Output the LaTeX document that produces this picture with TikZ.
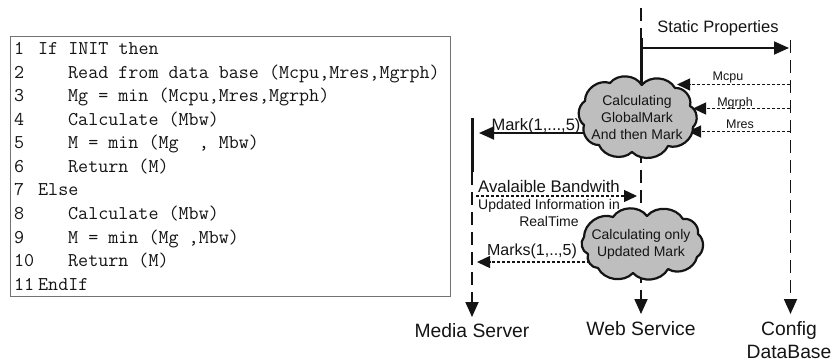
\documentclass[tikz,border=0pt]{standalone}
\usepackage{fontspec}
\setmainfont{Liberation Sans}
\setmonofont{Latin Modern Mono}
\usetikzlibrary{arrows.meta}
\definecolor{cloudgray}{RGB}{190,190,190}
\definecolor{ink}{RGB}{20,20,20}
\tikzset{
  x=1pt,y=-1pt,
  codetext/.style={anchor=base west,inner sep=0,font=\fontsize{19.5}{21}\selectfont\ttfamily,text=ink},
  lifeline/.style={draw=ink,line width=1.8pt,dash pattern=on 13pt off 7pt},
  boldline/.style={draw=ink,line width=3pt},
  tipsolid/.style={-{Triangle[length=15pt,width=13pt]}},
  tipsmall/.style={-{Triangle[length=13pt,width=12pt]}},
  dotline/.style={draw=ink,line width=1.4pt,dash pattern=on 3pt off 2pt,tipsmall},
  solidline/.style={draw=ink,line width=1.8pt,tipsolid},
  lbl/.style={inner sep=0,text=ink,align=center},
  big/.style={lbl,font=\fontsize{19.3}{23}\selectfont},
  mid/.style={lbl,font=\fontsize{16.5}{18}\selectfont},
  small/.style={lbl,font=\fontsize{12.5}{14}\selectfont},
  thought/.style={draw=ink,line width=2.2pt,fill=cloudgray,line join=round},
  puff/.style={bend left=55},
  cloudtext/.style={lbl,font=\fontsize{14}{17}\selectfont},
}
\begin{document}
\begin{tikzpicture}
\useasboundingbox (0,0) rectangle (833,362);
% code box
\node[draw=black!55,line width=1pt,minimum width=440pt,minimum height=260pt,inner sep=0] (box) at (230.5,166) {};
\foreach \n/\yy/\t in {n1/54/1,n2/78/2,n3/101/3,n4/125/4,n5/148/5,n6/172/6,n7/195/7,n8/219/8,n9/243/9,n10/266/10,n11/290/11}
  \node[codetext] (\n) at (14,\yy) {\t};
\node[codetext] (c1) at (38,54) {If INIT then};
\node[codetext] (c2) at (68,78) {Read from data base (Mcpu,Mres,Mgrph)};
\node[codetext] (c3) at (68,101) {Mg = min (Mcpu,Mres,Mgrph)};
\node[codetext] (c4) at (68,125) {Calculate (Mbw)};
\node[codetext] (c5) at (68,148) {M = min (Mg\ \ , Mbw)};
\node[codetext] (c6) at (68,172) {Return (M)};
\node[codetext] (c7) at (38,195) {Else};
\node[codetext] (c8) at (68,219) {Calculate (Mbw)};
\node[codetext] (c9) at (68,243) {M = min (Mg ,Mbw)};
\node[codetext] (c10) at (68,266) {Return (M)};
\node[codetext] (c11) at (38,290) {EndIf};
% lifeline coordinates
\coordinate (mtop) at (472,118);
\coordinate (mmid) at (472,172);
\coordinate (mend) at (472,317);
\coordinate (wtop) at (641,8);
\coordinate (wmid) at (641,38);
\coordinate (wcl) at (641,90);
\coordinate (wend) at (641,314);
\coordinate (ctop) at (790.5,40);
\coordinate (cend) at (790.5,314);
% lifelines
\draw[boldline] (mtop) -- (mmid);
\draw[lifeline,tipsolid] (mmid) -- (mend);
\draw[lifeline] (wtop) -- (wmid);
\draw[boldline] (wmid) -- (wcl);
\draw[lifeline,tipsolid] (wcl) -- (wend);
\draw[lifeline,tipsolid] (ctop) -- (cend);
% messages
\coordinate (s1) at (641,48);
\coordinate (s2) at (789,48);
\draw[solidline] (s1) -- (s2);
\node[mid] (static) at (718,28) {Static Properties};
\coordinate (a1) at (790,84.5);
\coordinate (a2) at (677,84.5);
\coordinate (b1) at (790,108.5);
\coordinate (b2) at (693,108.5);
\coordinate (d1) at (790,131.5);
\coordinate (d2) at (688,131.5);
\draw[dotline] (a1) -- (a2);
\draw[dotline] (b1) -- (b2);
\draw[dotline] (d1) -- (d2);
\node[small] (mcpu) at (728,77) {Mcpu};
\node[small] (mgrph) at (735,103) {Mgrph};
\node[small] (mres) at (740,124) {Mres};
\coordinate (m1) at (590,133);
\coordinate (m2) at (479,133);
\draw[solidline] (m1) -- (m2);
\node[mid] (mark) at (536,126) {Mark(1,...,5)};
\coordinate (v1) at (476,196);
\coordinate (v2) at (637,196);
\draw[dotline] (v1) -- (v2);
\node[lbl,font=\fontsize{16.8}{18}\selectfont] (avail) at (549,186) {Avalaible Bandwith};
\node[lbl,font=\fontsize{14}{17}\selectfont] (upd) at (549,212.5) {Updated Information in\\RealTime};
\coordinate (k1) at (590,262);
\coordinate (k2) at (477,262);
\draw[dotline] (k1) -- (k2);
\node[lbl,font=\fontsize{16}{18}\selectfont] (marks) at (532,251) {Marks(1,..,5)};
% clouds
\path[thought] (610,83) to[puff] (641.7,85) to[puff] (675,88) to[puff] (690,106) to[puff] (693,127) to[puff] (668,146) to[puff] (632,152) to[puff] (599,145) to[puff] (584,125) to[puff] (585,101) to[puff] cycle;
\node[cloudtext] (cl1) at (637,117) {Calculating\\GlobalMark\\And then Mark};
\path[thought] (613,217) to[puff] (647,216) to[puff] (683,219) to[puff] (698,234) to[puff] (697,257) to[puff] (668,269) to[puff] (633,273) to[puff] (598,268) to[puff] (588,254) to[puff] (584,237) to[puff] cycle;
\node[cloudtext] (cl2) at (641,244.5) {Calculating only\\Updated Mark};
% end labels
\node[big] (media) at (472,331) {Media Server};
\node[big] (web) at (641,329) {Web Service};
\node[big] (config) at (789,340.5) {Config\\DataBase};
\end{tikzpicture}
\end{document}
